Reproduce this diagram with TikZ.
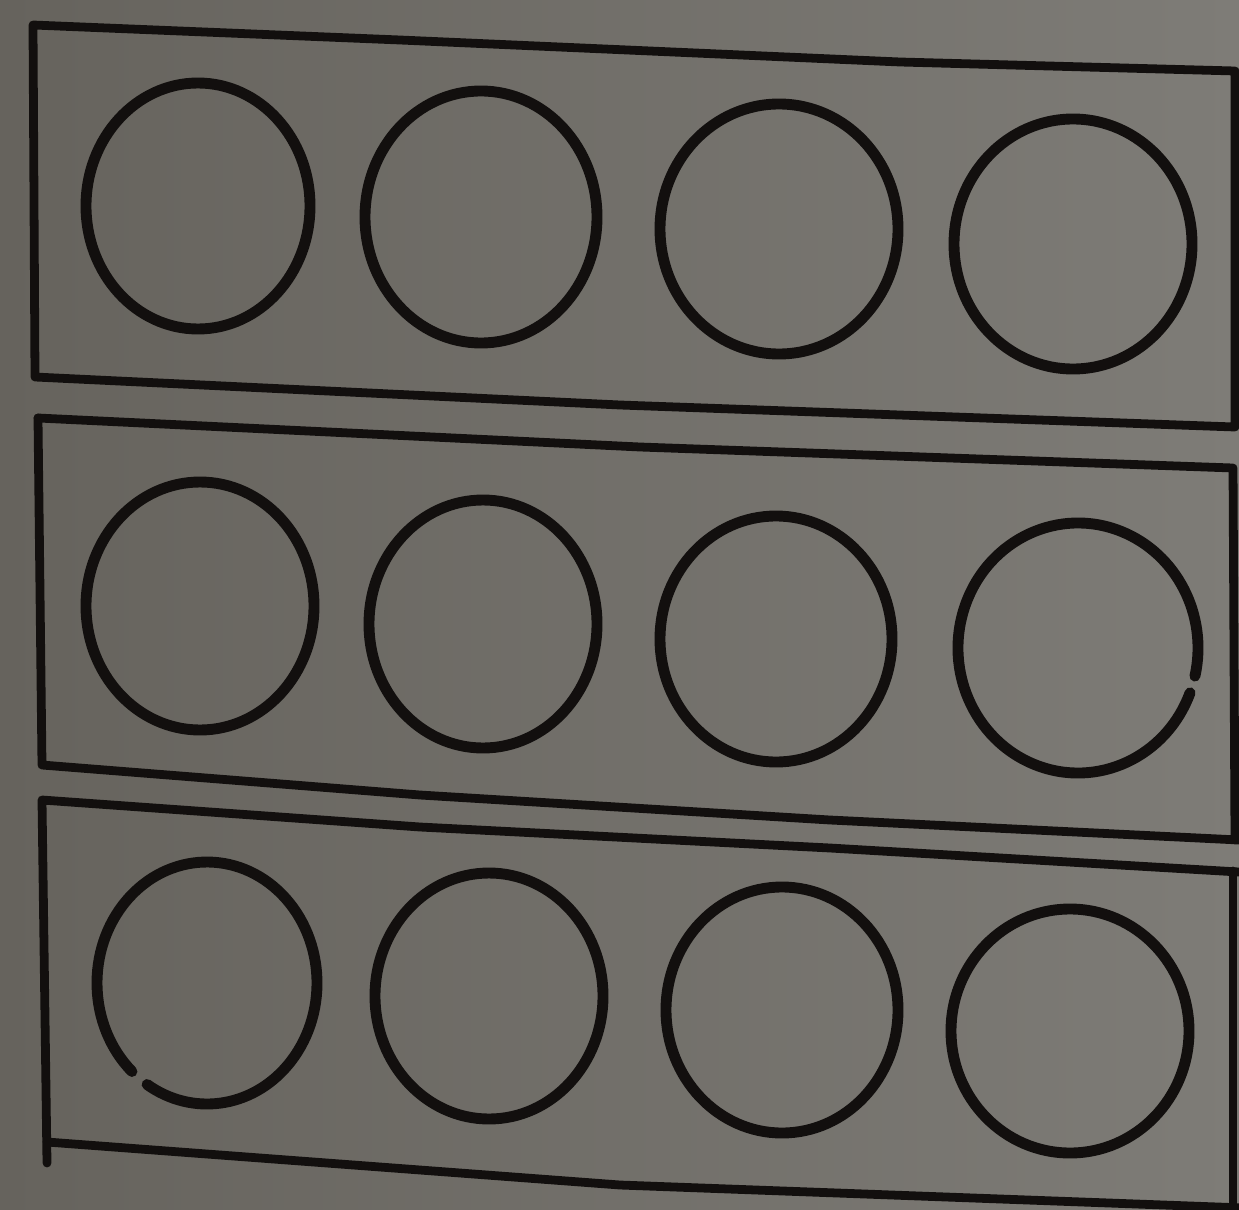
\documentclass[tikz,border=0pt]{standalone}
\definecolor{paperL}{RGB}{102,99,93}
\definecolor{paperR}{RGB}{126,124,119}
\definecolor{ink}{RGB}{18,15,14}
\tikzset{
  frame/.style={draw=ink, line width=5pt, line join=round, line cap=round},
  ring/.style={draw=ink, line width=6.2pt, line cap=round},
}
\begin{document}
\begin{tikzpicture}[x=0.02cm,y=-0.02cm]
\fill[left color=paperL, right color=paperR] (0,0) rectangle (1239,1209);
\useasboundingbox (0,0) rectangle (1239,1209);
% frames
\draw[frame] (33,25) -- (400,40) -- (900,62) -- (1235,71) -- (1235,427) -- (620,405) -- (35,377) -- cycle;
\draw[frame] (38,418) -- (640,447) -- (1233,468) -- (1235,840);
\draw[frame] (1239,840) -- (830,820) -- (420,795) -- (42,765) -- (38,418);
\draw[frame] (1239,872) -- (830,848) -- (420,827) -- (42,800) -- (47,1163);
\draw[frame] (1233,871) -- (1233,1215);
\draw[frame] (47,1142) -- (620,1185) -- (1245,1208);
% ring centres
\coordinate (a1) at (198,206);
\coordinate (a2) at (481,217);
\coordinate (a3) at (779,229);
\coordinate (a4) at (1073,244);
\coordinate (b1) at (200,606);
\coordinate (b2) at (483,624);
\coordinate (b3) at (776,639);
\coordinate (b4) at (1078,648);
\coordinate (c1) at (207,983);
\coordinate (c2) at (489,996);
\coordinate (c3) at (782,1010);
\coordinate (c4) at (1070,1031);
% rings
\draw[ring] (a1) ellipse [x radius=112, y radius=123];
\draw[ring] (a2) ellipse [x radius=116, y radius=126];
\draw[ring] (a3) ellipse [x radius=119, y radius=125];
\draw[ring] (a4) ellipse [x radius=119, y radius=125];
\draw[ring] (b1) ellipse [x radius=114, y radius=124];
\draw[ring] (b2) ellipse [x radius=114, y radius=124];
\draw[ring] (b3) ellipse [x radius=116, y radius=123];
\draw[ring] (b4) ++(21:120 and 125) arc [start angle=21, end angle=373, x radius=120, y radius=125];
\draw[ring] (c1) ++(133:110 and 121) arc [start angle=133, end angle=483, x radius=110, y radius=121];
\draw[ring] (c2) ellipse [x radius=114, y radius=123];
\draw[ring] (c3) ellipse [x radius=116, y radius=123];
\draw[ring] (c4) ellipse [x radius=119, y radius=122];
\end{tikzpicture}
\end{document}
